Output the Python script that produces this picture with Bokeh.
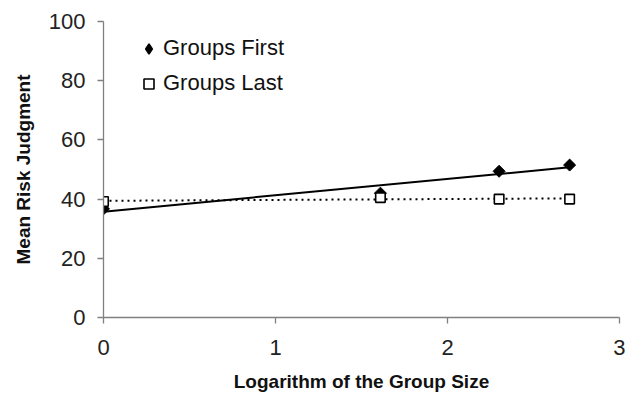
import numpy as np
from bokeh.plotting import figure
from bokeh.models import Range1d, Legend, LegendItem, FixedTicker, ColumnDataSource
from bokeh.embed import file_html
from bokeh.resources import INLINE

# Data
log_group_size = [0.0, 1.61, 2.30, 2.71]
groups_first = [36.7, 42.0, 49.4, 51.5]
groups_last = [39.2, 40.5, 40.0, 40.0]
x_ticks = [0, 1, 2, 3]
y_ticks = [0, 20, 40, 60, 80, 100]
series_names = ["Groups First", "Groups Last"]

FONT = "Liberation Sans"

p = figure(width=625, height=394, output_backend="svg", toolbar_location=None,
           x_range=Range1d(0, 3), y_range=Range1d(0, 100),
           min_border_left=103, min_border_right=6, min_border_top=21, min_border_bottom=76)
p.outline_line_color = None
p.xgrid.visible = False
p.ygrid.visible = False
p.background_fill_color = "white"
p.border_fill_color = "white"

# linear trend lines (as in the spreadsheet chart)
xs = np.array(log_group_size)
line_x = [xs.min(), xs.max()]
b1, a1 = np.polyfit(xs, groups_first, 1)
b2, a2 = np.polyfit(xs, groups_last, 1)
fit_first = [a1 + b1 * v for v in line_x]
fit_last = [a2 + b2 * v for v in line_x]

p.line(line_x, fit_last, line_color="black", line_width=2, line_dash="2 4")
p.line(line_x, fit_first, line_color="black", line_width=2)

src_f = ColumnDataSource(dict(x=log_group_size, y=groups_first))
src_l = ColumnDataSource(dict(x=log_group_size, y=groups_last))
r_first = p.scatter("x", "y", source=src_f, marker="square", angle=np.pi / 4, size=8.5,
                    fill_color="black", line_color="black", line_width=1)
r_last = p.scatter("x", "y", source=src_l, marker="square", size=9.5,
                   fill_color="white", line_color="black", line_width=1.6)
# legend swatch for the diamond marker (legend glyphs are drawn unrotated);
# its single point is NaN so nothing is drawn in the plot area
r_first_key = p.scatter(x=[np.nan], y=[np.nan], marker="diamond", size=15,
                        fill_color="black", line_color="black", line_width=1.5)

legend = Legend(items=[LegendItem(label=series_names[0], renderers=[r_first_key]),
                       LegendItem(label=series_names[1], renderers=[r_last])],
                location=(33, 221), padding=0, margin=0, spacing=9,
                glyph_width=25, glyph_height=25, label_standoff=2,
                label_text_font=FONT, label_text_font_size="22px", label_text_color="#111111",
                border_line_color=None, background_fill_alpha=0)
p.add_layout(legend)

for ax in (p.xaxis[0], p.yaxis[0]):
    ax.axis_line_color = "#808080"
    ax.axis_line_width = 1.3
    ax.major_tick_line_color = "#808080"
    ax.major_tick_line_width = 1.3
    ax.major_tick_out = 6
    ax.major_tick_in = 0
    ax.minor_tick_line_color = None
    ax.major_label_text_font = FONT
    ax.major_label_text_font_size = "22px"
    ax.major_label_text_color = "#222222"
    ax.axis_label_text_font = FONT
    ax.axis_label_text_font_size = "19px"
    ax.axis_label_text_font_style = "bold"
    ax.axis_label_text_color = "#111111"

p.xaxis.ticker = FixedTicker(ticks=x_ticks)
p.yaxis.ticker = FixedTicker(ticks=y_ticks)
p.xaxis.axis_label = "Logarithm of the Group Size"
p.yaxis.axis_label = "Mean Risk Judgment"
p.xaxis.major_label_standoff = 16
p.yaxis.major_label_standoff = 12
p.xaxis.axis_label_standoff = 13
p.yaxis.axis_label_standoff = 12

open("out.html", "w").write(file_html(p, INLINE))
